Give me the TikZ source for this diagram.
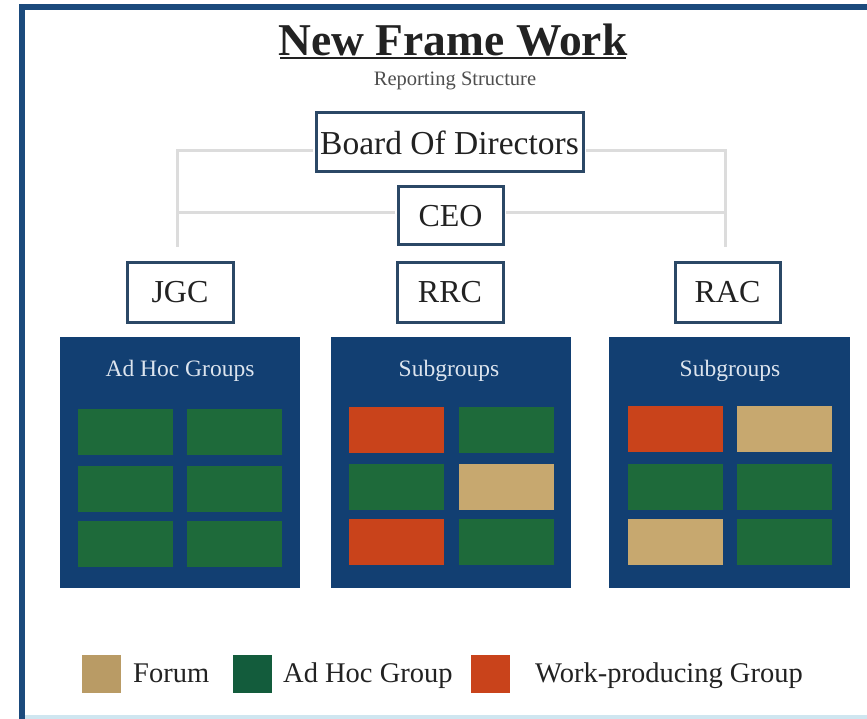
\documentclass[tikz,border=0pt]{standalone}
\usepackage{fontspec}
\setmainfont{Liberation Serif}
\usetikzlibrary{calc}
\definecolor{navy}{HTML}{123F72}
\definecolor{frameblue}{HTML}{1B4A7C}
\definecolor{boxline}{HTML}{2B4866}
\definecolor{grn}{HTML}{1E6A3A}
\definecolor{redo}{HTML}{C9431B}
\definecolor{tan}{HTML}{C7A86F}
\definecolor{lgtan}{HTML}{B99B65}
\definecolor{lggrn}{HTML}{135C3C}
\definecolor{conn}{HTML}{DCDCDC}
\definecolor{txt}{HTML}{222222}
\definecolor{paneltxt}{HTML}{DCE4EE}
\definecolor{bottomline}{HTML}{CFE6F0}
\tikzset{
  orgbox/.style={draw=boxline, line width=3pt, fill=white, inner sep=0pt, text=txt,
    font=\fontsize{32}{32}\selectfont},
  connline/.style={draw=conn, line width=3pt},
  panel/.style={fill=navy, draw=none, inner sep=0pt},
  cell/.style={draw=none, minimum width=95pt, minimum height=46pt, inner sep=0pt},
  gcell/.style={cell, fill=grn},
  rcell/.style={cell, fill=redo},
  tcell/.style={cell, fill=tan},
  paneltitle/.style={text=paneltxt, font=\fontsize{23.5}{23.5}\selectfont, inner sep=0pt},
  legsq/.style={minimum width=39pt, minimum height=38pt, inner sep=0pt, draw=none},
  legtxt/.style={text=txt, font=\fontsize{28.5}{28.5}\selectfont, inner sep=0pt, anchor=base west}
}
\begin{document}
\begin{tikzpicture}[x=1pt,y=-1pt]
\useasboundingbox (0,0) rectangle (867,719);
\fill[white] (0,0) rectangle (867,719);
% frame
\fill[frameblue] (19,4) rectangle (867,10);
\fill[frameblue] (19,4) rectangle (25,719);
\fill[bottomline] (25,715) rectangle (867,719);

% title
\node[inner sep=0pt, text=txt, font=\bfseries\fontsize{45.5}{45.5}\selectfont] (title) at (453,40) {New Frame Work};
\draw[txt, line width=2.5pt] (280,58) -- (626,58);
\node[inner sep=0pt, text=txt!80, font=\fontsize{20.5}{20.5}\selectfont] (sub) at (455,81) {Reporting Structure};

% free ends of connectors
\coordinate (Lcorner) at (177,151);
\coordinate (Lend) at (177,247);
\coordinate (Ljoin) at (177,213);
\coordinate (Rcorner) at (725,151);
\coordinate (Rend) at (725,247);
\coordinate (Rjoin) at (725,213);

% org boxes
\node[orgbox, minimum width=267pt, minimum height=59pt, font=\fontsize{33.5}{33.5}\selectfont] (board) at (449.5,142.5) {Board Of Directors};
\node[orgbox, minimum width=105pt, minimum height=58pt] (ceo) at (450.5,216) {CEO};
\node[orgbox, minimum width=106pt, minimum height=59pt] (jgc) at (180,292.5) {JGC};
\node[orgbox, minimum width=106pt, minimum height=59pt] (rrc) at (450,292.5) {RRC};
\node[orgbox, minimum width=105pt, minimum height=59pt] (rac) at (727.5,292.5) {RAC};

\draw[connline] ($(board.west)+(-1.5,8.5)$) -- (Lcorner) -- (Lend);
\draw[connline] ($(board.east)+(1.5,8.5)$) -- (Rcorner) -- (Rend);
\draw[connline] ($(ceo.west)+(-1.5,-3)$) -- (Ljoin);
\draw[connline] ($(ceo.east)+(1.5,-3)$) -- (Rjoin);

% panels
\node[panel, minimum width=240pt, minimum height=251pt] (p1) at (180,462.5) {};
\node[panel, minimum width=240pt, minimum height=251pt] (p2) at (451,462.5) {};
\node[panel, minimum width=241pt, minimum height=251pt] (p3) at (729.5,462.5) {};
\node[paneltitle] (p1t) at (180,371) {Ad Hoc Groups};
\node[paneltitle] (p2t) at (449,371) {Subgroups};
\node[paneltitle] (p3t) at (730,371) {Subgroups};

% left panel cells
\node[gcell] (a11) at (125.5,431.5) {};
\node[gcell] (a12) at (234.5,431.5) {};
\node[gcell] (a21) at (125.5,488.5) {};
\node[gcell] (a22) at (234.5,488.5) {};
\node[gcell] (a31) at (125.5,544) {};
\node[gcell] (a32) at (234.5,544) {};
% middle panel cells
\node[rcell] (b11) at (396.5,429.5) {};
\node[gcell] (b12) at (506.5,429.5) {};
\node[gcell] (b21) at (396.5,486.5) {};
\node[tcell] (b22) at (506.5,486.5) {};
\node[rcell] (b31) at (396.5,542) {};
\node[gcell] (b32) at (506.5,542) {};
% right panel cells
\node[rcell] (c11) at (675,429) {};
\node[tcell] (c12) at (784.5,429) {};
\node[gcell] (c21) at (675,486.5) {};
\node[gcell] (c22) at (784.5,486.5) {};
\node[tcell] (c31) at (675,542) {};
\node[gcell] (c32) at (784.5,542) {};

% legend
\node[legsq, fill=lgtan] (lf) at (101.5,674) {};
\node[legtxt] (lft) at (133,682) {Forum};
\node[legsq, fill=lggrn] (lg) at (252.5,674) {};
\node[legtxt] (lgt) at (283,682) {Ad Hoc Group};
\node[legsq, fill=redo] (lr) at (490.5,674) {};
\node[legtxt] (lrt) at (535,682) {Work-producing Group};
\end{tikzpicture}
\end{document}
